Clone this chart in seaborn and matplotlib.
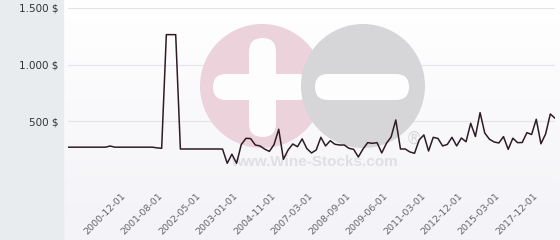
import matplotlib
matplotlib.use("Agg")
import matplotlib.pyplot as plt
import seaborn as sns
import pandas as pd
import numpy as np
from matplotlib.patches import Circle, FancyBboxPatch, Rectangle
from matplotlib.transforms import Affine2D
from matplotlib.colors import LinearSegmentedColormap

# ---- data ----
prices = [
    272, 272, 272, 272, 272, 272, 272, 272, 272, 282,
    272, 272, 272, 272, 272, 272, 272, 272, 272, 266,
    262, 1265, 1265, 1265, 256, 256, 256, 256, 256, 256,
    256, 256, 256, 255, 130, 210, 130, 295, 350, 348,
    291, 283, 255, 235, 295, 430, 165, 247, 300, 276,
    345, 260, 221, 247, 359, 283, 329, 298, 291, 291,
    262, 253, 185, 256, 312, 306, 312, 221, 306, 362,
    512, 256, 256, 230, 218, 336, 380, 238, 359, 349,
    283, 296, 359, 283, 353, 320, 483, 366, 577, 397,
    342, 318, 309, 365, 253, 351, 312, 313, 400, 384,
    518, 302, 389, 565, 527,
]
tick_labels = ["2000-12-01", "2001-08-01", "2002-05-01", "2003-01-01",
               "2004-11-01", "2007-03-01", "2008-09-01", "2009-06-01",
               "2011-03-01", "2012-12-01", "2015-03-01", "2017-12-01"]
tick_index = [12, 20, 28, 36, 44, 52, 60, 68, 76, 84, 92, 100]
y_ticks = [0, 500, 1000, 1500]
y_labels = ["", "500 $", "1.000 $", "1.500 $"]

df = pd.DataFrame({"idx": np.arange(len(prices)), "price": prices})

sns.set_theme(style="white")
plt.rcParams['font.family'] = ['DejaVu Sans']

W, H = 560, 240
fig = plt.figure(figsize=(W / 100, H / 100), dpi=100)
fig.patch.set_facecolor("white")
px = Affine2D().scale(1 / W, -1 / H).translate(0, 1) + fig.transFigure

# background: gradient plot area + gray left panel
bg = fig.add_axes([0, 0, 1, 1], zorder=0)
bg.set_axis_off()
cmap = LinearSegmentedColormap.from_list("g", ["#ffffff", "#f3f3f8"])
bg.imshow(np.linspace(0, 1, 100)[:, None], aspect="auto", cmap=cmap,
          extent=[0, 1, 0, 1], origin="upper")
bg.add_patch(Rectangle((0, 0), 63 / W, 1, color="#e8ecef", transform=bg.transAxes))
bg.set_xlim(0, 1)
bg.set_ylim(0, 1)

ax = fig.add_axes([68 / W, 62 / H, 487 / W, 170 / H], zorder=1)
ax.patch.set_alpha(0)
ax.set_axisbelow(True)

# watermark
wm_pink = "#ecd2da"
wm_gray = "#d6d6d8"
ax.add_patch(Circle((262, 86), 62, transform=px, color=wm_pink, zorder=1.2, clip_on=False, lw=0))
ax.add_patch(FancyBboxPatch((249, 38), 27, 99, boxstyle="round,pad=0,rounding_size=13.5",
                            transform=px, color="#fdfdfd", zorder=1.3, clip_on=False, lw=0))
ax.add_patch(FancyBboxPatch((213, 74), 98, 26, boxstyle="round,pad=0,rounding_size=13",
                            transform=px, color="#fdfdfd", zorder=1.3, clip_on=False, lw=0))
ax.add_patch(Circle((363, 86), 62, transform=px, color=wm_gray, zorder=1.4, clip_on=False, lw=0))
ax.add_patch(FancyBboxPatch((315, 74), 94, 26, boxstyle="round,pad=0,rounding_size=13",
                            transform=px, color="#fdfdfd", zorder=1.5, clip_on=False, lw=0))
ax.text(314, 162, "www.Wine-Stocks.com", transform=px, ha="center", va="center",
        fontsize=11, fontweight="bold", color="#e0e0e2", family="Liberation Sans", zorder=1.6)
ax.text(414, 139, "®", transform=px, ha="center", va="center",
        fontsize=12, color="#d8d8da", family="DejaVu Sans", zorder=1.6)

sns.lineplot(data=df, x="idx", y="price", ax=ax, color="#2e1b25", lw=1.1, zorder=3)

ax.set_xlim(0, len(prices) - 1)
ax.set_ylim(0, 1500)
ax.set_yticks(y_ticks, y_labels)
ax.set_xticks(tick_index, tick_labels)
ax.set_xlabel("")
ax.set_ylabel("")
for s in ax.spines.values():
    s.set_visible(False)
ax.grid(axis="y", color="#e4e4e4", lw=0.8)
ax.grid(axis="x", visible=False)
ax.tick_params(length=0)
ax.tick_params(axis="y", pad=7, labelsize=7.5, labelcolor="#333333")
ax.tick_params(axis="x", pad=12, labelsize=6.8, labelcolor="#666666")
for lab in ax.get_xticklabels():
    lab.set_rotation(45)
    lab.set_ha("right")
    lab.set_va("center")
    lab.set_rotation_mode("anchor")

fig.savefig("out.png", dpi=100)
